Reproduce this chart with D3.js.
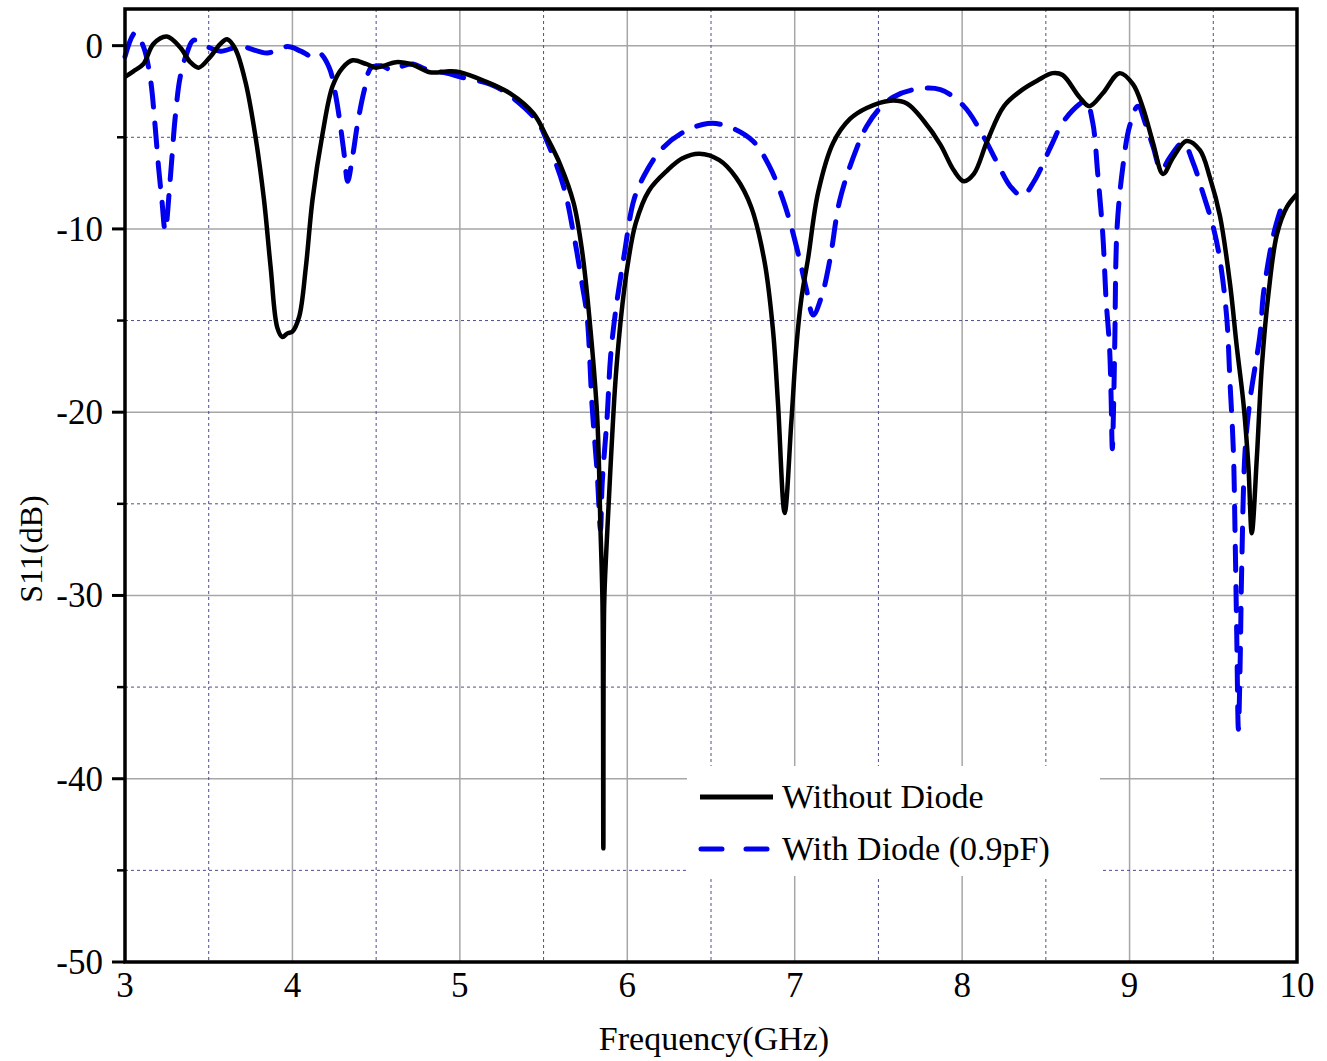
<!DOCTYPE html>
<html>
<head>
<meta charset="utf-8">
<script src="https://cdn.jsdelivr.net/npm/d3@7"></script>
<style>
    body { margin: 0; background: #fff; }
    #chart text { font-family: "Liberation Serif", "Times New Roman", serif; fill: #000; }
</style>
</head>
<body>
<div id="chart"></div>
<script>
/*global d3*/
// Without Diode (black solid)
var freqNoDiode = [3.00, 3.05, 3.11, 3.17, 3.25, 3.33, 3.39, 3.44, 3.51, 3.57, 3.61, 3.66, 3.72, 3.78, 3.83, 3.87,
    3.91, 3.94, 3.97, 4.00, 4.04, 4.08, 4.12, 4.18, 4.24, 4.30, 4.36, 4.44, 4.50, 4.62, 4.72, 4.82, 4.94, 5.00,
    5.14, 5.30, 5.44, 5.52, 5.60, 5.68, 5.73, 5.77, 5.82, 5.84, 5.852, 5.857, 5.862, 5.875, 5.897, 5.927, 5.95,
    5.97, 6.00, 6.05, 6.13, 6.24, 6.33, 6.43, 6.55, 6.65, 6.74, 6.82, 6.87, 6.90, 6.94, 6.98, 7.01, 7.04, 7.08,
    7.14, 7.23, 7.33, 7.43, 7.57, 7.67, 7.77, 7.87, 7.95, 8.01, 8.07, 8.15, 8.25, 8.36, 8.45, 8.54, 8.60, 8.70,
    8.76, 8.84, 8.94, 9.02, 9.08, 9.14, 9.20, 9.26, 9.34, 9.42, 9.48, 9.54, 9.60, 9.64, 9.68, 9.71, 9.73, 9.76,
    9.79, 9.83, 9.88, 9.94, 10.00];
var s11NoDiode = [-1.7, -1.4, -1.0, 0.1, 0.5, -0.1, -0.9, -1.2, -0.6, 0.1, 0.35, -0.2, -2.0, -5.0, -8.4, -12.1,
    -15.4, -15.9, -15.7, -15.6, -14.8, -12.1, -8.4, -4.8, -2.2, -1.2, -0.8, -1.0, -1.2, -0.9, -1.05, -1.45, -1.4, -1.45,
    -1.9, -2.6, -3.7, -5.0, -6.5, -8.6, -11.2, -14.5, -20.2, -26.4, -30.5, -43.8, -30.5, -27.5, -23.5, -18.6, -16.0,
    -14.2, -12.1, -9.7, -7.9, -6.8, -6.15, -5.9, -6.25, -7.2, -8.8, -11.8, -15.5, -19.5, -25.5, -20.5, -16.4, -13.8, -11.6,
    -8.0, -5.3, -4.0, -3.4, -3.0, -3.15, -4.1, -5.4, -6.8, -7.4, -7.0, -5.2, -3.3, -2.4, -1.9, -1.5, -1.6, -2.8,
    -3.3, -2.6, -1.5, -2.1, -3.4, -5.3, -7.0, -6.1, -5.2, -5.7, -7.2, -9.3, -13.0, -16.4, -19.5, -23.0, -26.6, -22.5,
    -17.5, -13.5, -10.3, -8.8, -8.1];

// With Diode (0.9pF) (blue dashed)
var freqDiode = [3.00, 3.06, 3.11, 3.15, 3.18, 3.20, 3.22, 3.24, 3.27, 3.30, 3.33, 3.37, 3.41, 3.49, 3.57, 3.69,
    3.85, 3.97, 4.05, 4.12, 4.16, 4.22, 4.26, 4.29, 4.31, 4.33, 4.36, 4.39, 4.43, 4.47, 4.53, 4.60, 4.66, 4.72,
    4.80, 4.92, 5.00, 5.18, 5.28, 5.46, 5.52, 5.62, 5.68, 5.73, 5.76, 5.79, 5.82, 5.84, 5.85, 5.88, 5.90, 5.93,
    5.98, 6.04, 6.10, 6.20, 6.32, 6.48, 6.60, 6.75, 6.85, 6.93, 6.98, 7.03, 7.07, 7.11, 7.16, 7.21, 7.27, 7.37,
    7.43, 7.50, 7.59, 7.71, 7.87, 8.01, 8.13, 8.21, 8.29, 8.36, 8.43, 8.53, 8.60, 8.70, 8.74, 8.78, 8.81, 8.84,
    8.86, 8.88, 8.89, 8.897, 8.905, 8.912, 8.925, 8.96, 9.00, 9.05, 9.10, 9.14, 9.19, 9.24, 9.32, 9.38, 9.44, 9.50,
    9.54, 9.58, 9.60, 9.62, 9.63, 9.64, 9.65, 9.66, 9.67, 9.69, 9.72, 9.78, 9.80, 9.86, 9.90];
var s11Diode = [-0.6, 0.7, -0.05, -1.7, -4.4, -6.6, -8.4, -10.1, -7.3, -3.9, -1.7, -0.4, 0.3, -0.05, -0.3, -0.05,
    -0.4, -0.05, -0.3, -0.6, -0.4, -1.2, -2.8, -4.6, -6.0, -7.4, -6.0, -4.2, -2.4, -1.2, -1.1, -1.35, -1.1, -1.0,
    -1.3, -1.5, -1.7, -2.1, -2.6, -4.1, -5.2, -7.7, -10.3, -13.0, -14.8, -19.7, -23.3, -26.4, -23.9, -20.2, -17.0, -14.5,
    -11.5, -8.4, -7.1, -5.7, -4.8, -4.25, -4.4, -5.2, -6.6, -8.4, -9.9, -11.7, -13.3, -14.7, -13.7, -11.7, -8.4, -5.6,
    -4.4, -3.5, -2.8, -2.4, -2.4, -3.3, -5.0, -6.4, -7.7, -8.2, -7.4, -5.5, -4.2, -3.2, -3.0, -4.2, -7.0, -10.3,
    -13.9, -16.4, -19.3, -22.0, -19.5, -16.0, -10.0, -6.6, -4.4, -3.3, -4.4, -5.5, -6.8, -6.1, -5.3, -6.4, -8.1, -9.9,
    -11.7, -14.8, -18.4, -22.1, -26.6, -32.1, -37.3, -33.9, -28.4, -22.1, -19.3, -15.7, -13.5, -10.3, -9.0];

var xMajor = [3, 4, 5, 6, 7, 8, 9, 10];
var xMinor = [3.5, 4.5, 5.5, 6.5, 7.5, 8.5, 9.5];
var yMajor = [0, -10, -20, -30, -40, -50];
var yMinor = [-5, -15, -25, -35, -45];
var seriesNames = ["Without Diode", "With Diode (0.9pF)"];

(function () {
    "use strict";
    var svg, x, y, line, plot, legend,
        dims = {width: 1327, height: 1061},
        box = {left: 125, right: 1297, top: 9, bottom: 962};

    svg = d3.select("#chart").append("svg")
        .attr("width", dims.width)
        .attr("height", dims.height);

    x = d3.scaleLinear().domain([3, 10]).range([box.left, box.right]);
    y = d3.scaleLinear().domain([-50, 2]).range([box.bottom, box.top]);

    // grid
    plot = svg.append("g");
    plot.selectAll("line.vmaj").data(xMajor.slice(1, -1)).enter().append("line")
        .attr("x1", x).attr("x2", x).attr("y1", box.top).attr("y2", box.bottom)
        .attr("stroke", "#a6a6a6").attr("stroke-width", 1.5);
    plot.selectAll("line.hmaj").data(yMajor.slice(0, -1)).enter().append("line")
        .attr("x1", box.left).attr("x2", box.right).attr("y1", y).attr("y2", y)
        .attr("stroke", "#a6a6a6").attr("stroke-width", 1.5);
    plot.selectAll("line.vmin").data(xMinor).enter().append("line")
        .attr("x1", x).attr("x2", x).attr("y1", box.top).attr("y2", box.bottom)
        .attr("stroke", "#4d4d8c").attr("stroke-width", 1).attr("stroke-dasharray", "3,3");
    plot.selectAll("line.hmin").data(yMinor).enter().append("line")
        .attr("x1", box.left).attr("x2", box.right).attr("y1", y).attr("y2", y)
        .attr("stroke", "#4d4d8c").attr("stroke-width", 1).attr("stroke-dasharray", "3,3");

    // curves
    line = function (fs, vs) {
        return d3.line()
            .x(function (d) { return x(d); })
            .y(function (d, i) { return y(vs[i]); })
            .curve(d3.curveCatmullRom.alpha(0.5))(fs);
    };

    plot.append("path")
        .attr("d", line(freqDiode, s11Diode))
        .attr("fill", "none").attr("stroke", "#0000ee").attr("stroke-width", 5)
        .attr("stroke-dasharray", "24,16").attr("stroke-linecap", "round");
    plot.append("path")
        .attr("d", line(freqNoDiode, s11NoDiode))
        .attr("fill", "none").attr("stroke", "#000").attr("stroke-width", 4.5)
        .attr("stroke-linejoin", "round");

    // frame
    svg.append("rect")
        .attr("x", box.left).attr("y", box.top)
        .attr("width", box.right - box.left).attr("height", box.bottom - box.top)
        .attr("fill", "none").attr("stroke", "#000").attr("stroke-width", 3.5);

    // y axis ticks
    svg.selectAll("line.ytick").data(yMajor).enter().append("line")
        .attr("x1", box.left - 13).attr("x2", box.left).attr("y1", y).attr("y2", y)
        .attr("stroke", "#000").attr("stroke-width", 3);
    svg.selectAll("line.ytickm").data(yMinor).enter().append("line")
        .attr("x1", box.left - 8).attr("x2", box.left).attr("y1", y).attr("y2", y)
        .attr("stroke", "#000").attr("stroke-width", 2.5);
    svg.selectAll("text.ylab").data(yMajor).enter().append("text")
        .attr("x", box.left - 22).attr("y", function (d) { return y(d) + 12; })
        .attr("text-anchor", "end").style("font-size", "35px")
        .text(function (d) { return d; });

    svg.selectAll("text.xlab").data(xMajor).enter().append("text")
        .attr("x", x).attr("y", 997)
        .attr("text-anchor", "middle").style("font-size", "35px")
        .text(function (d) { return d; });

    // axis titles
    svg.append("text")
        .attr("x", 714).attr("y", 1050)
        .attr("text-anchor", "middle").style("font-size", "34px")
        .text("Frequency(GHz)");
    svg.append("text")
        .attr("transform", "translate(42,549) rotate(-90)")
        .attr("text-anchor", "middle").style("font-size", "32px")
        .text("S11(dB)");

    // legend
    legend = svg.append("g");
    legend.append("rect")
        .attr("x", 687).attr("y", 766).attr("width", 413).attr("height", 110)
        .attr("fill", "#fff");
    legend.append("line")
        .attr("x1", 700).attr("x2", 773).attr("y1", 797).attr("y2", 797)
        .attr("stroke", "#000").attr("stroke-width", 5);
    legend.append("line")
        .attr("x1", 701).attr("x2", 771).attr("y1", 849).attr("y2", 849)
        .attr("stroke", "#0000ee").attr("stroke-width", 5)
        .attr("stroke-dasharray", "21,24").attr("stroke-linecap", "round");
    legend.selectAll("text").data(seriesNames).enter().append("text")
        .attr("x", 782).attr("y", function (d, i) { return 808 + i * 52; })
        .style("font-size", "34px")
        .text(function (d) { return d; });
}());
</script>
</body>
</html>
